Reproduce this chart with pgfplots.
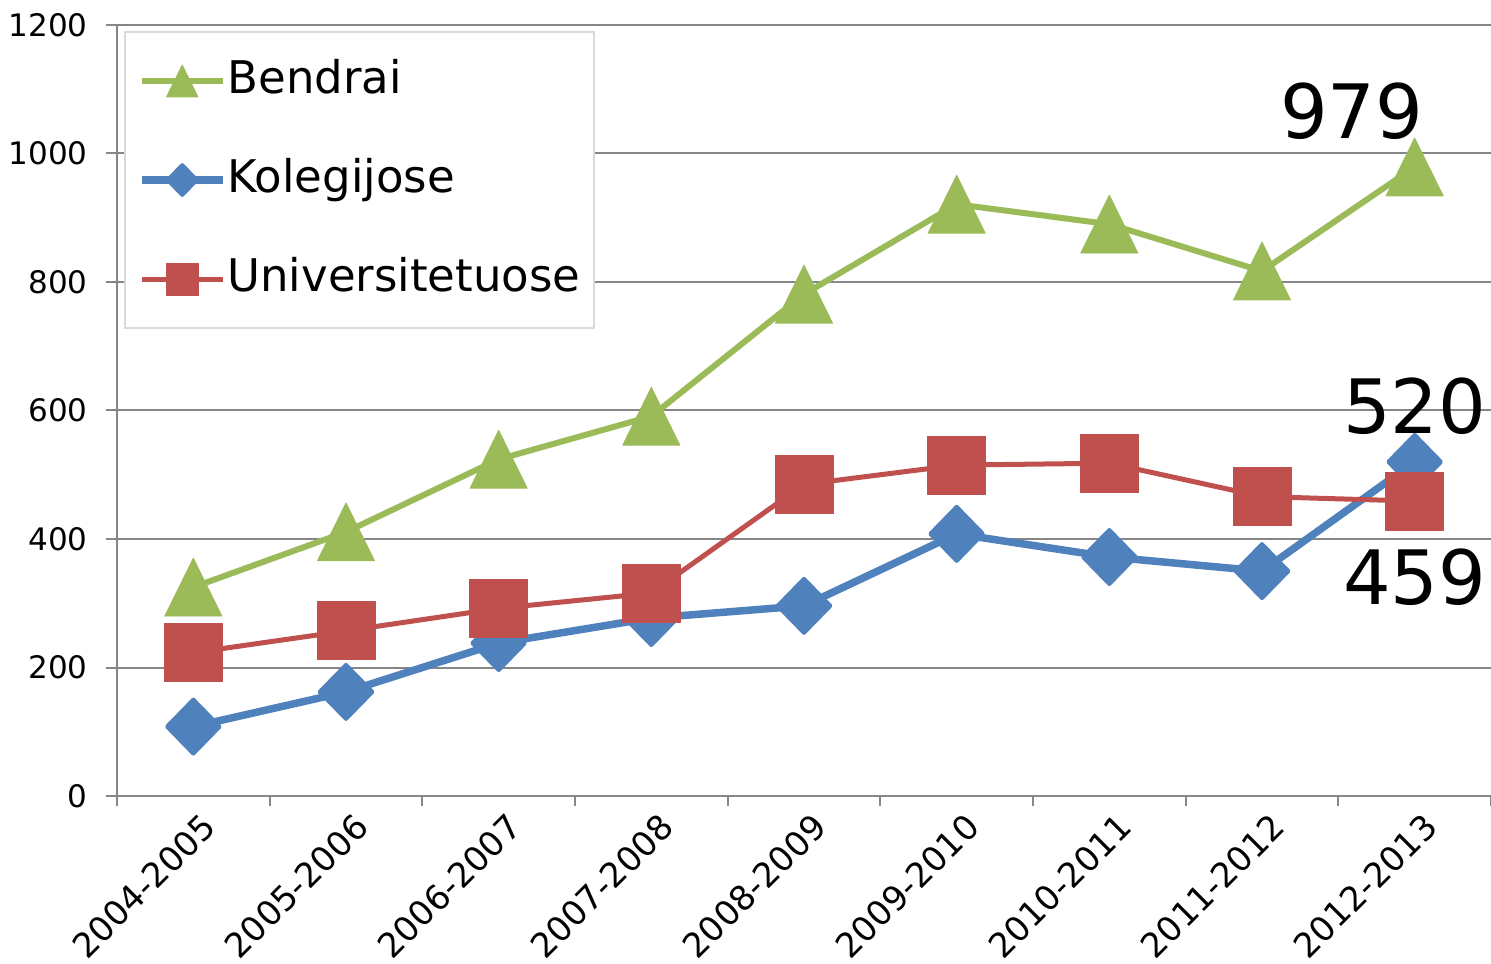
\documentclass[border=0pt]{standalone}
\usepackage{fontspec}
\setmainfont{DejaVu Sans}
\usepackage{pgfplots}
\pgfplotsset{compat=1.18}
\definecolor{cgreen}{HTML}{9BBB59}
\definecolor{cblue}{HTML}{4F81BD}
\definecolor{cred}{HTML}{C0504D}
\definecolor{cgrid}{HTML}{868686}
\definecolor{clegend}{HTML}{D9D9D9}
\begin{document}
\begin{tikzpicture}
\begin{axis}[
  scale only axis, width=687pt, height=385.5pt,
  at={(0pt,0pt)}, anchor=south west,
  xmin=-0.5, xmax=8.5, ymin=0, ymax=1200,
  axis x line*=bottom, axis y line*=left,
  axis line style={draw=cgrid, line width=1pt},
  ytick={0,200,...,1200},
  ymajorgrids, grid style={draw=cgrid, line width=1pt},
  xtick={0,...,8},
  xticklabels={2004-2005,2005-2006,2006-2007,2007-2008,2008-2009,2009-2010,2010-2011,2011-2012,2012-2013},
  minor xtick={-0.5,0.5,...,8.5},
  tick align=outside,
  major tick length=5.5pt, minor tick length=5pt,
  major x tick style={draw=none},
  minor x tick style={draw=cgrid, line width=1pt},
  ytick style={draw=cgrid, line width=1pt},
  tick label style={font=\fontsize{15.5}{18}\selectfont, text=black},
  yticklabel style={anchor=east, inner sep=0pt, xshift=-9pt},
  xticklabel style={rotate=45, anchor=east, inner sep=0pt, xshift=1pt, yshift=-10.5pt, font=\fontsize{17}{20}\selectfont},
  /pgf/number format/assume math mode=true,
  /pgf/number format/1000 sep={},
  clip=false,
  legend style={at={(axis description cs:0.0051,0.9922)}, anchor=north west,
    draw=clegend, line width=1pt, fill=white, inner xsep=6.5pt, inner ysep=14pt,
    row sep=28.5pt, font=\fontsize{22.5}{27}\selectfont,
    nodes={inner xsep=0.5pt, inner ysep=0pt, text height=16.5pt, text depth=4.5pt}},
  legend cell align=left,
  legend image code/.code={\draw[mark repeat=2, mark phase=2, #1, every mark/.prefix style={scale=0.55}] plot coordinates {(0pt,0pt) (20.25pt,0pt) (40.5pt,0pt)};},
]
\addplot[cgreen, line width=3pt, line join=round, mark=triangle*, mark size=16.5pt,
  mark options={yshift=-4.8pt, yscale=1.17, line width=0.4pt}]
  coordinates {(0,325) (1,411) (2,524) (3,591) (4,781) (5,921) (6,890) (7,817) (8,979)};
\addlegendentry{Bendrai}
\addplot[cblue, line width=3.75pt, line join=round, mark=diamond*, mark size=13.5pt,
  mark options={xscale=1.3, line width=2pt, line join=round}]
  coordinates {(0,108) (1,162) (2,238) (3,277) (4,296) (5,408) (6,372) (7,350) (8,520)};
\addlegendentry{Kolegijose}
\addplot[cred, line width=2.5pt, line join=round, mark=square*, mark size=14.5pt,
  mark options={line width=0.4pt}]
  coordinates {(0,223) (1,257) (2,292) (3,316) (4,485) (5,515) (6,518) (7,466) (8,459)};
\addlegendentry{Universitetuose}
\node[font=\fontsize{37.5}{40}\selectfont, inner sep=0pt] at ([xshift=-31.5pt, yshift=28pt]axis cs:8,979) {979};
\node[font=\fontsize{37.5}{40}\selectfont, inner sep=0pt] at ([yshift=28pt]axis cs:8,520) {520};
\node[font=\fontsize{37.5}{40}\selectfont, inner sep=0pt] at ([yshift=-38pt]axis cs:8,459) {459};
\end{axis}
\pgfresetboundingbox
\useasboundingbox (-58.5pt,-83.5pt) rectangle (687pt,398pt);
\end{tikzpicture}
\end{document}
